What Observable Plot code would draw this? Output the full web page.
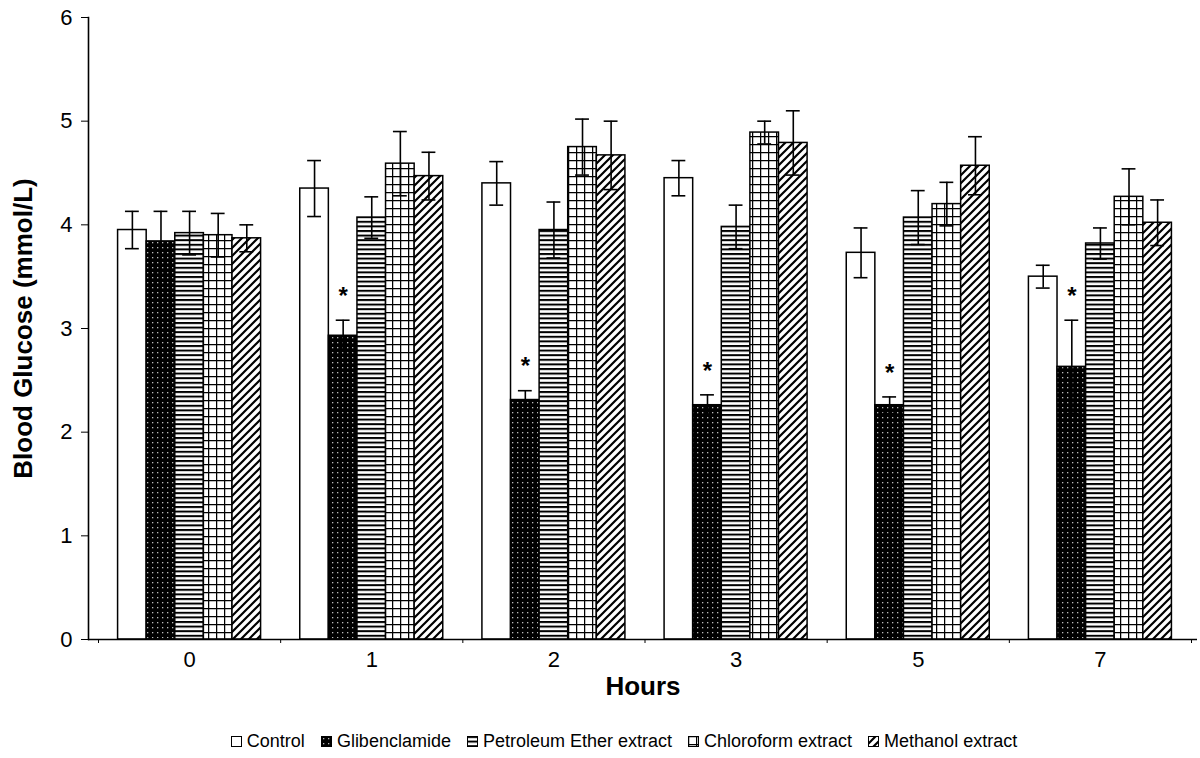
<!DOCTYPE html>
<html><head><meta charset="utf-8">
<script src="https://cdn.jsdelivr.net/npm/d3@7"></script>
<script src="https://cdn.jsdelivr.net/npm/@observablehq/plot@0.6"></script>
<style>
body{margin:0;background:#fff;font-family:"Liberation Sans",Arial,sans-serif;}
#chart svg{display:block;}
#legend{height:33px;display:flex;justify-content:center;align-items:center;font-size:18px;color:#000;padding-left:48px;}
#legend .item{display:flex;align-items:center;margin:0 8px;}
</style></head><body>
<svg width="0" height="0" style="position:absolute"><defs>
<pattern id="p-glib" patternUnits="userSpaceOnUse" width="5" height="5"><rect width="5" height="5" fill="#000"/><rect x="2" y="2" width="1.3" height="1.3" fill="#bbb"/></pattern>
<pattern id="p-pet" patternUnits="userSpaceOnUse" width="6" height="4.6"><rect width="6" height="4.6" fill="#fff"/><rect y="0" width="6" height="2" fill="#000"/></pattern>
<pattern id="p-chl" patternUnits="userSpaceOnUse" width="8" height="8"><rect width="8" height="8" fill="#fff"/><path d="M0 0.6H8M0.6 0V8" stroke="#000" stroke-width="1.3"/></pattern>
<pattern id="p-met" patternUnits="userSpaceOnUse" width="8" height="8"><rect width="8" height="8" fill="#fff"/><path d="M-2 2L2 -2M0 8L8 0M6 10L10 6" stroke="#000" stroke-width="2.2"/></pattern>
</defs></svg>
<div id="chart"></div>
<div id="legend"></div>
<script>
// ---- data ----
const hours = ["0", "1", "2", "3", "5", "7"];
const seriesNames = ["Control", "Glibenclamide", "Petroleum Ether extract", "Chloroform extract", "Methanol extract"];
const control   = [3.95, 4.35, 4.40, 4.45, 3.73, 3.50];
const controlSD = [0.18, 0.27, 0.21, 0.17, 0.24, 0.11];
const glib      = [3.84, 2.93, 2.31, 2.26, 2.26, 2.63];
const glibSD    = [0.29, 0.15, 0.09, 0.10, 0.08, 0.45];
const pet       = [3.92, 4.07, 3.95, 3.98, 4.07, 3.82];
const petSD     = [0.21, 0.20, 0.27, 0.21, 0.26, 0.15];
const chl       = [3.90, 4.59, 4.75, 4.89, 4.20, 4.27];
const chlSD     = [0.21, 0.31, 0.27, 0.11, 0.21, 0.27];
const met       = [3.87, 4.47, 4.67, 4.79, 4.57, 4.02];
const metSD     = [0.13, 0.23, 0.33, 0.31, 0.28, 0.22];
const glibSignificant = [false, true, true, true, true, true];
const yTicks = [0, 1, 2, 3, 4, 5, 6];

// ---- styling ----
const fills = ["#fff", "url(#p-glib)", "url(#p-pet)", "url(#p-chl)", "url(#p-met)"];
const means = [control, glib, pet, chl, met];
const sds = [controlSD, glibSD, petSD, chlSD, metSD];

const rows = [];
hours.forEach((h, gi) => {
  seriesNames.forEach((s, si) => {
    rows.push({hour: h, gi, series: s, si, mean: means[si][gi], sd: sds[si][gi],
               star: si === 1 && glibSignificant[gi]});
  });
});

const bw = 0.157;                 // bar width in group units
const pad = (1 - 5 * bw) / 2;
const left = d => d.gi - 0.5 + pad + d.si * bw;
const center = d => left(d) + bw / 2;
const cap = 0.038;

const chart = Plot.plot({
  width: 1200,
  height: 725,
  marginTop: 17,
  marginBottom: 86,
  marginLeft: 88,
  marginRight: 3,
  style: {fontFamily: '"Liberation Sans", Arial, sans-serif', fontSize: "22px", color: "#000"},
  x: {type: "linear", domain: [-0.5, 5.5], range: [98, 1191]},
  y: {domain: [0, 6]},
  color: {type: "ordinal", domain: seriesNames, range: fills},
  marks: [
    Plot.rectY(rows, {x1: left, x2: d => left(d) + bw, y1: 0, y2: "mean", fill: "series",
                      stroke: "#000", strokeWidth: 1.5}),
    Plot.ruleX(rows, {x: center, y1: d => d.mean - d.sd, y2: d => d.mean + d.sd, stroke: "#000", strokeWidth: 1.6}),
    Plot.ruleY(rows, {y: d => d.mean + d.sd, x1: d => center(d) - cap, x2: d => center(d) + cap, stroke: "#000", strokeWidth: 1.6}),
    Plot.ruleY(rows, {y: d => d.mean - d.sd, x1: d => center(d) - cap, x2: d => center(d) + cap, stroke: "#000", strokeWidth: 1.6}),
    Plot.text(rows.filter(d => d.star), {x: center, y: d => d.mean + d.sd, text: () => "*", dy: -24,
                                          fontSize: 24, fontWeight: "bold"}),
    Plot.axisY({ticks: yTicks, tickSize: 7, tickPadding: 9, tickFormat: d => d, fontSize: 22,
                label: "Blood Glucose (mmol/L)", labelAnchor: "center", labelArrow: "none", labelOffset: 75}),
    Plot.frame({anchor: "left", stroke: "#000", strokeWidth: 1.6}),
    Plot.ruleY([0], {stroke: "#000", strokeWidth: 1.6}),
    Plot.axisX({ticks: d3.range(hours.length), tickSize: 0, tickPadding: 12, tickFormat: i => hours[i], fontSize: 22,
                label: "Hours", labelAnchor: "center", labelArrow: "none", labelOffset: 55}),
    Plot.axisX({ticks: d3.range(hours.length + 1).map(i => i - 0.5), tickSize: 4, tickFormat: () => "", label: null})
  ]
});
chart.querySelectorAll("g[aria-label$='axis label']").forEach(g => {g.setAttribute("font-weight", "bold"); g.setAttribute("font-size", "26");});
document.getElementById("chart").appendChild(chart);

// ---- legend ----
const legend = document.getElementById("legend");
seriesNames.forEach((s, i) => {
  const item = document.createElement("div");
  item.className = "item";
  item.innerHTML = `<svg width="11" height="11" style="margin-right:5px"><rect x="0.5" y="0.5" width="10" height="10" fill="${fills[i]}" stroke="#000" stroke-width="1"/></svg><span>${s}</span>`;
  legend.appendChild(item);
});
</script>
</body></html>
